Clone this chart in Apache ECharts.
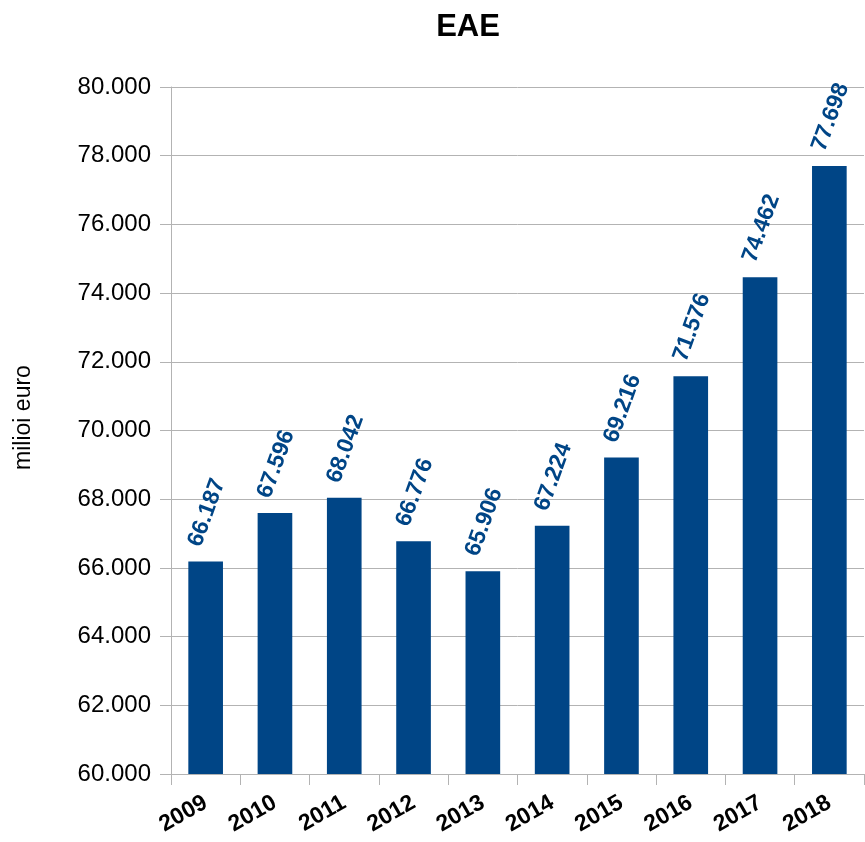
<!DOCTYPE html>
<html>
<head>
<meta charset="utf-8">
<script src="https://cdn.jsdelivr.net/npm/echarts@6/dist/echarts.min.js"></script>
<style>html,body{margin:0;padding:0;background:#fff}#c{width:865px;height:842px}</style>
</head>
<body>
<div id="c"></div>
<script>
const categories = ['2009','2010','2011','2012','2013','2014','2015','2016','2017','2018'];
const values = [66187, 67596, 68042, 66776, 65906, 67224, 69216, 71576, 74462, 77698];
const titleText = 'EAE';
const yAxisName = 'milioi euro';

function fmt(v){
  const s = Math.round(v).toString();
  return s.replace(/\B(?=(\d{3})+(?!\d))/g, '.');
}

const chart = echarts.init(document.getElementById('c'));
chart.setOption({
  animation: false,
  title: {
    text: titleText, left: 463, top: 7, textAlign: 'center',
    textStyle: {fontFamily: 'Liberation Sans', fontWeight: 'bold', fontSize: 31, color: '#000'}
  },
  grid: {left: 171, right: 1, top: 87, bottom: 68},
  xAxis: {
    type: 'category', data: categories,
    axisLine: {lineStyle: {color: '#b3b3b3', width: 1}},
    axisTick: {show: true, length: 11, lineStyle: {color: '#b3b3b3'}},
    axisLabel: {rotate: 30, fontFamily: 'Liberation Sans', fontWeight: 'bold', fontSize: 23, color: '#000', margin: 27}
  },
  yAxis: {
    type: 'value', min: 60000, max: 80000, interval: 2000,
    name: yAxisName, nameLocation: 'middle', nameGap: 136, nameRotate: 90,
    nameTextStyle: {fontFamily: 'Liberation Sans', fontSize: 23, color: '#000', padding: [0, 0, 0, 26]},
    axisLine: {show: true, lineStyle: {color: '#b3b3b3'}},
    axisTick: {show: true, length: 11, lineStyle: {color: '#b3b3b3'}},
    splitLine: {lineStyle: {color: '#b3b3b3'}},
    axisLabel: {formatter: fmt, fontFamily: 'Liberation Sans', fontSize: 24, color: '#000', margin: 20}
  },
  series: [{
    type: 'bar', data: values, barWidth: '50%',
    itemStyle: {color: '#004586'},
    label: {
      show: true, position: 'top', rotate: 70, align: 'left', verticalAlign: 'bottom',
      distance: 12, formatter: p => fmt(p.value),
      fontFamily: 'Liberation Sans', fontWeight: 'bold', fontSize: 23, color: '#004586'
    }
  }]
});
</script>
</body>
</html>
